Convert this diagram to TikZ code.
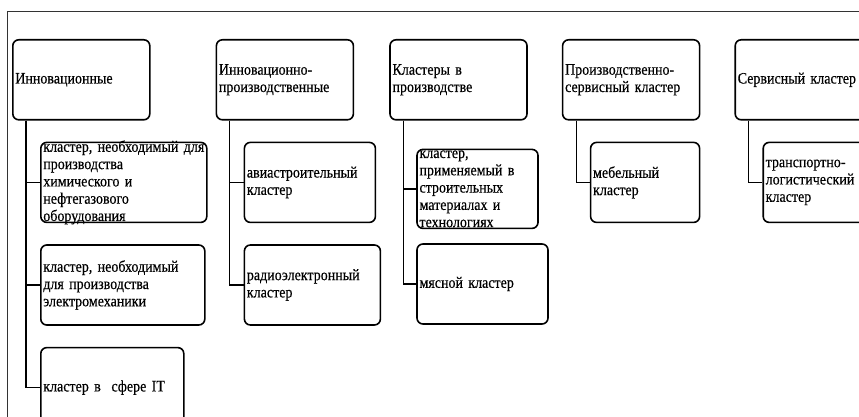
\documentclass[tikz,border=0pt]{standalone}
\usepackage{fontspec}
\setmainfont{Liberation Serif}[FakeStretch=0.875, WordSpace=0.8, FakeBold=0.4]
\usetikzlibrary{positioning}

\begin{document}
\begin{tikzpicture}[
  x=1pt, y=1pt,
  font=\fontsize{16}{17.3}\selectfont,
  box/.style={
    draw=black,
    line width=1.6pt,
    rounded corners=6pt,
    align=left,
    inner xsep=2.5pt,
    inner ysep=0pt,
    minimum height=80pt
  },
  head/.style={box, text width=132pt},
  sub/.style={box, text width=#1},
  tight/.style={inner ysep=#1},
  link/.style={line width=1.3pt, draw=black},
  frame/.style={line width=0.8pt, draw=black!80}
]
\clip (0,0) rectangle (859,-417);
\draw[frame] (7,-417) |- (859,-11);

\node[head, anchor=north west] (inno) at (12,-39) {Инновационные};
\node[head, right=65pt of inno] (innoprod) {Инновационно-\\производственные};
\node[head, right=35pt of innoprod] (prod) {Кластеры в\\производстве};
\node[head, right=34pt of prod] (prodserv) {Производственно-\\сервисный кластер};
\node[head, right=34pt of prodserv] (serv) {Сервисный кластер};

\node[sub=161pt, tight=-2.5pt, below right=21pt and 28pt of inno.south west] (chem) {кластер, необходимый для\\производства\\химического и\\нефтегазового\\оборудования};
\node[sub=159pt, below right=21pt and 0pt of chem.south west] (elmech) {кластер, необходимый\\для производства\\электромеханики};
\node[sub=138pt, below right=21pt and 0pt of elmech.south west] (it) {кластер в\ \ сфере IT};

\node[sub=126pt, below right=21pt and 28pt of innoprod.south west] (avia) {авиастроительный\\кластер};
\node[sub=131pt, below right=21pt and 0pt of avia.south west] (radio) {радиоэлектронный\\кластер};

\node[sub=116pt, tight=-3pt, minimum height=79pt, below right=28pt and 27pt of prod.south west] (build) {кластер,\\применяемый в\\строительных\\материалах и\\технологиях};
\node[sub=126pt, below right=14pt and 0pt of build.south west] (meat) {мясной кластер};

\node[sub=104pt, below right=21pt and 28pt of prodserv.south west] (furn) {мебельный\\кластер};

\node[sub=120pt, below right=21pt and 28pt of serv.south west] (trans) {транспортно-\\логистический\\кластер};

\draw[link] ([xshift=14pt]inno.south west) |- (chem.west);
\draw[link] ([xshift=14pt]inno.south west) |- (elmech.west);
\draw[link] ([xshift=14pt]inno.south west) |- (it.west);

\draw[link] ([xshift=14pt]innoprod.south west) |- (avia.west);
\draw[link] ([xshift=14pt]innoprod.south west) |- (radio.west);

\draw[link] ([xshift=14pt]prod.south west) |- (build.west);
\draw[link] ([xshift=14pt]prod.south west) |- (meat.west);

\draw[link] ([xshift=15pt]prodserv.south west) |- (furn.west);

\draw[link] ([xshift=14pt]serv.south west) |- (trans.west);

\end{tikzpicture}
\end{document}
